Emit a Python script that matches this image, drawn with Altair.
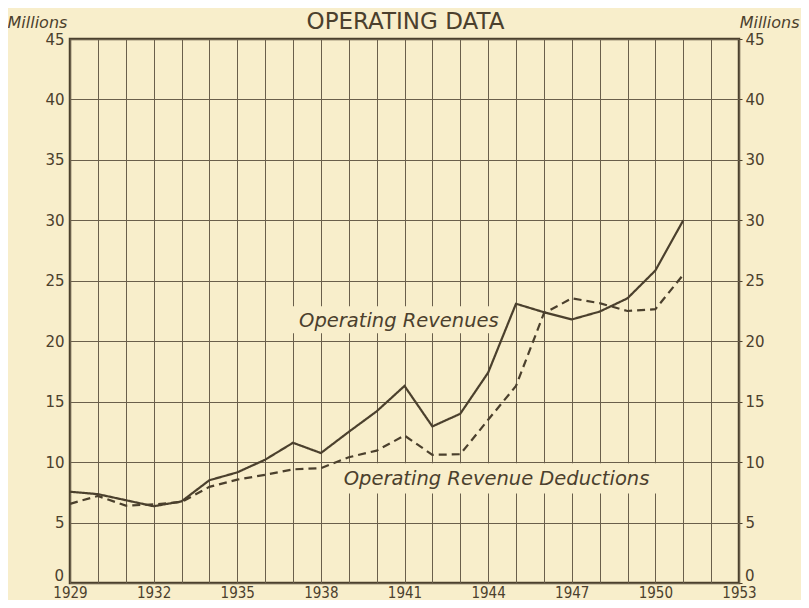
import altair as alt
import pandas as pd

years = list(range(1929, 1952))
revenues = [7.55, 7.35, 6.85, 6.35, 6.75, 8.5, 9.15, 10.2, 11.6, 10.75, 12.5, 14.2,
            16.3, 12.95, 14.0, 17.4, 23.1, 22.4, 21.8, 22.45, 23.55, 25.85, 30.0]
deductions = [6.55, 7.2, 6.4, 6.5, 6.7, 7.95, 8.55, 8.95, 9.4, 9.5, 10.4, 10.95,
              12.2, 10.6, 10.65, 13.5, 16.3, 22.3, 23.55, 23.15, 22.5, 22.65, 25.5]
series_names = ["Operating Revenues", "Operating Revenue Deductions"]

label_text = ["Operating  Revenues", "Operating  Revenue  Deductions"]
label_x = [1940.8, 1944.3]
label_y = [21.7, 8.6]
box_x1 = [1936.9, 1938.6]
box_x2 = [1944.6, 1950.2]
box_y1 = [20.65, 7.4]
box_y2 = [22.9, 9.9]

chart_title = ["OPERATING DATA"]

grid_years = list(range(1929, 1954))
y_ticks = list(range(0, 50, 5))

BG = "#F8EECB"
INK = "#4b402d"
GRID = "#6a5f4b"
W, H = 669, 544

rows = []
for y, r, d in zip(years, revenues, deductions):
    rows.append({"year": y, "value": r, "series": series_names[0]})
    rows.append({"year": y, "value": d, "series": series_names[1]})
df = pd.DataFrame(rows)

labels = pd.DataFrame({"text": label_text, "x": label_x, "y": label_y,
                       "x1": box_x1, "x2": box_x2, "y1": box_y1, "y2": box_y2})
title_df = pd.DataFrame({"t": chart_title})

xscale = alt.Scale(domain=[1929, 1953], nice=False, zero=False)
yscale = alt.Scale(domain=[0, 45], nice=False)

x_axis = alt.Axis(values=grid_years, grid=True, ticks=False, domain=False,
                  labelExpr="(datum.value - 1929) % 3 == 0 ? datum.label : ''",
                  format="d", labelFont="DejaVu Sans Condensed", labelFontSize=15,
                  labelColor=INK, labelPadding=2, title=None,
                  gridColor=GRID, gridWidth=1, labelFlush=False, labelOverlap=False)

left_axis = alt.Axis(values=y_ticks, grid=True, ticks=False, domain=False,
                     labelFont="DejaVu Sans", labelFontSize=15, labelColor=INK,
                     labelPadding=6, gridColor=GRID, gridWidth=1,
                     labelExpr="datum.value == 0 ? '' : datum.label",
                     title="Millions", titleAngle=0, titleAlign="left",
                     titleBaseline="alphabetic", titleX=-63, titleY=-12,
                     titleFont="DejaVu Sans", titleFontStyle="italic",
                     titleFontWeight="normal", titleFontSize=16, titleColor=INK)

right_axis = alt.Axis(values=y_ticks, grid=False, orient="right", ticks=True,
                      tickSize=3, tickColor=INK, domain=False,
                      labelExpr="datum.value == 35 ? '30' : (datum.value == 0 ? '' : datum.label)",
                      labelFont="DejaVu Sans", labelFontSize=15, labelColor=INK,
                      labelPadding=3,
                      title="Millions", titleAngle=0, titleAlign="right",
                      titleBaseline="alphabetic", titleX=60, titleY=-12,
                      titleFont="DejaVu Sans", titleFontStyle="italic",
                      titleFontWeight="normal", titleFontSize=16, titleColor=INK)

# zero labels sit just above the baseline, as in the reference
zero_df = pd.DataFrame({"v": [0], "lab": ["0"]})

base_lines = alt.Chart(df).mark_line(color=INK, strokeWidth=2.2).encode(
    x=alt.X("year:Q", scale=xscale, axis=x_axis),
    y=alt.Y("value:Q", scale=yscale, axis=left_axis),
    strokeDash=alt.StrokeDash("series:N",
                              scale=alt.Scale(domain=series_names, range=[[1, 0], [8, 5]]),
                              legend=None),
    detail="series:N",
)

boxes = alt.Chart(labels).mark_rect(color=BG).encode(
    x=alt.X("x1:Q", scale=xscale, axis=x_axis),
    x2="x2:Q",
    y=alt.Y("y1:Q", scale=yscale, axis=right_axis),
    y2="y2:Q",
)

texts = alt.Chart(labels).mark_text(font="DejaVu Sans", fontStyle="italic",
                                    fontSize=19.5, color=INK).encode(
    x=alt.X("x:Q", scale=xscale, axis=x_axis),
    y=alt.Y("y:Q", scale=yscale, axis=None),
    text="text:N",
)

zero_left = alt.Chart(zero_df).mark_text(font="DejaVu Sans", fontSize=15, color=INK,
                                         align="right", baseline="bottom", dx=-6, dy=1).encode(
    x=alt.value(0),
    y=alt.Y("v:Q", scale=yscale, axis=None),
    text="lab:N",
)
zero_right = alt.Chart(zero_df).mark_text(font="DejaVu Sans", fontSize=15, color=INK,
                                          align="left", baseline="bottom", dx=6, dy=1).encode(
    x=alt.value(W),
    y=alt.Y("v:Q", scale=yscale, axis=None),
    text="lab:N",
)

title_mark = alt.Chart(title_df).mark_text(font="DejaVu Sans", fontSize=23,
                                           color=INK, baseline="alphabetic",
                                           align="center").encode(
    x=alt.value(W / 2 + 1),
    y=alt.value(-10),
    text="t:N",
)

chart = alt.layer(boxes, base_lines, texts, zero_left, zero_right, title_mark).resolve_axis(y="independent").resolve_scale(y="shared").properties(
    width=W, height=H,
    autosize=alt.AutoSizeParams(type="none"),
    padding={"left": 62, "top": 31, "right": 62, "bottom": 17},
    background=BG,
).configure_view(stroke=INK, strokeWidth=2.5)

chart.save("out.html", embed_options={"renderer": "svg", "actions": False})
